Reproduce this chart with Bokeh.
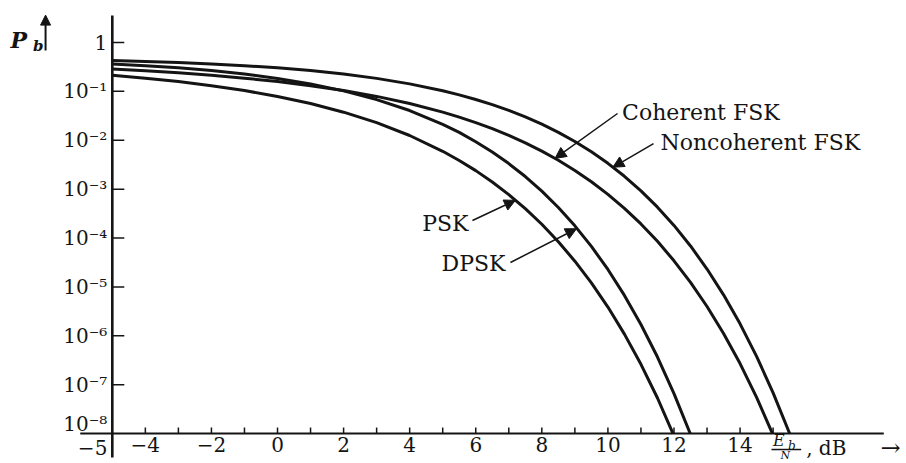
from bokeh.plotting import figure
from bokeh.models import Range1d, Label, Arrow, NormalHead
from bokeh.core.properties import value
from bokeh.embed import file_html
from bokeh.resources import INLINE

# Eb/N0 in dB for each curve (last point = where the curve meets the 1e-8 axis)
grid_db = [-5, -4, -3, -2, -1, 0, 1, 2, 3, 4, 5, 5.5, 6, 6.5, 7, 7.5, 8, 8.5,
           9, 9.5, 10, 10.5, 11, 11.5, 12, 12.5, 13, 13.5, 14, 14.5, 15, 15.5]
psk_db = grid_db[:24] + [11.97]
dpsk_db = grid_db[:25] + [12.49]
coherent_fsk_db = grid_db[:30] + [14.98]
noncoherent_fsk_db = grid_db[:31] + [15.5]

# Bit error probability
psk = [0.2133, 0.1861, 0.1584, 0.1306, 0.1038, 0.0787, 0.0563, 0.0375, 0.0229,
       0.0125, 0.00595, 0.00386, 0.00239, 0.00140, 7.73e-4, 3.99e-4, 1.91e-4,
       8.40e-5, 3.36e-5, 1.21e-5, 3.87e-6, 1.08e-6, 2.61e-7, 5.33e-8, 1.0e-8]
dpsk = [0.3644, 0.3358, 0.3029, 0.2660, 0.2260, 0.1839, 0.1420, 0.1025, 0.0680,
        0.04056, 0.02117, 0.01452, 0.00933, 0.00574, 0.00333, 0.00181, 9.09e-4,
        4.21e-4, 1.775e-4, 6.73e-5, 2.27e-5, 6.70e-6, 1.70e-6, 3.67e-7, 6.55e-8,
        1.0e-8]
coherent_fsk = [0.2869, 0.2640, 0.2395, 0.2135, 0.1864, 0.1587, 0.1309, 0.1040,
                0.0789, 0.0565, 0.0377, 0.0298, 0.0230, 0.0173, 0.0126, 0.00886,
                0.00600, 0.00390, 0.00241, 0.00142, 7.83e-4, 4.04e-4, 1.94e-4,
                8.55e-5, 3.42e-5, 1.24e-5, 3.97e-6, 1.11e-6, 2.70e-7, 5.5e-8,
                1.0e-8]
noncoherent_fsk = [0.4269, 0.4098, 0.3892, 0.3647, 0.3361, 0.3033, 0.2665, 0.2264,
                   0.1844, 0.1424, 0.1029, 0.0848, 0.0683, 0.0536, 0.0408, 0.0300,
                   0.02133, 0.01452, 0.00942, 0.00580, 0.003369, 0.001832, 9.23e-4,
                   4.28e-4, 1.809e-4, 6.88e-5, 2.32e-5, 6.88e-6, 1.756e-6, 3.79e-7,
                   6.79e-8, 1.0e-8]

x_ticks = [-4, -2, 0, 2, 4, 6, 8, 10, 12, 14]
x_tick_labels = ["\u22124", "\u22122", "0", "2", "4", "6", "8", "10", "12", "14"]
x_minor_ticks = [-3, -1, 1, 3, 5, 7, 9, 11, 13, 15]
y_ticks = [1, 1e-1, 1e-2, 1e-3, 1e-4, 1e-5, 1e-6, 1e-7]
y_tick_labels = ["1", "10\u207b\u00b9", "10\u207b\u00b2", "10\u207b\u00b3", "10\u207b\u2074",
                 "10\u207b\u2075", "10\u207b\u2076", "10\u207b\u2077"]

SERIF = "DejaVu Serif"
INK = "#141414"

# scale geometry (pixels per unit)
PX_X = 33.04          # pixels per dB
PX_DEC = 48.88        # pixels per decade
X_MIN, X_AXIS_START, X_AXIS_END = -5, -5.97, 18.35
Y_MIN, Y_AXIS_LOW, Y_AXIS_TOP = 1e-8, 10 ** -8.49, 10 ** 0.55

p = figure(width=906, height=463, x_range=Range1d(-8.384, 19.037),
           y_range=Range1d(10 ** -8.613, 10 ** 0.859), y_axis_type="log",
           x_axis_location=None, y_axis_location=None,
           output_backend="svg", toolbar_location=None, min_border=0)
p.outline_line_color = None
p.grid.visible = False
p.background_fill_color = "white"
p.border_fill_color = "white"

# axes
p.line([X_AXIS_START, X_AXIS_END], [Y_MIN, Y_MIN], line_color=INK, line_width=2)
p.line([X_MIN, X_MIN], [Y_AXIS_LOW, Y_AXIS_TOP], line_color=INK, line_width=2.6)
up = 10 ** (6 / PX_DEC)
all_x_ticks = x_ticks + x_minor_ticks
p.segment(x0=all_x_ticks, y0=[Y_MIN] * len(all_x_ticks), x1=all_x_ticks,
          y1=[Y_MIN * up] * len(all_x_ticks), line_color=INK, line_width=1.5)
p.segment(x0=[X_MIN] * len(y_ticks), y0=y_ticks, x1=[X_MIN + 12 / PX_X] * len(y_ticks),
          y1=y_ticks, line_color=INK, line_width=1.5)
p.text(x=x_ticks, y=[Y_MIN * 10 ** (-3 / PX_DEC)] * len(x_ticks), text=x_tick_labels,
       text_font=value(SERIF), text_font_size=value("20px"), text_color=INK,
       text_align="center", text_baseline="top")
p.text(x=[X_MIN - 5 / PX_X] * len(y_ticks), y=y_ticks, text=y_tick_labels,
       text_font=value(SERIF), text_font_size=value("20px"), text_color=INK,
       text_align="right", text_baseline="middle")

# curves
for xs, series in ((psk_db, psk), (dpsk_db, dpsk), (coherent_fsk_db, coherent_fsk),
                   (noncoherent_fsk_db, noncoherent_fsk)):
    p.line(xs, series, line_color=INK, line_width=3, line_join="round")


def lab(x, y, text, size="22px", align="left", style="normal", baseline="middle"):
    p.add_layout(Label(x=x, y=y, text=text, text_font=SERIF, text_font_size=size,
                       text_align=align, text_baseline=baseline, text_font_style=style,
                       text_color=INK))


def arrow(x0, y0, x1, y1, head=True, width=1.5, size=11):
    end = NormalHead(size=size, fill_color=INK, line_color=INK, line_width=1) if head else None
    p.add_layout(Arrow(x_start=x0, y_start=y0, x_end=x1, y_end=y1, end=end,
                       line_color=INK, line_width=width))


# curve annotations
lab(10.43, 10 ** -1.43, "Coherent FSK")
arrow(10.29, 10 ** -1.453, 8.4, 4.25e-3)
lab(11.59, 10 ** -2.046, "Noncoherent FSK")
arrow(11.38, 10 ** -2.067, 10.15, 2.8e-3)
lab(5.78, 10 ** -3.703, "PSK", align="right")
arrow(5.90, 10 ** -3.642, 7.2, 5.9e-4)
lab(6.90, 10 ** -4.522, "DPSK", align="right")
arrow(7.05, 10 ** -4.501, 9.05, 1.55e-4)

# axis end labels
lab(-5.15, 10 ** -7.815, "10\u207b\u2078", size="20px", align="right")
lab(-5.15, 10 ** -8.286, "\u22125", size="20px", align="right")

# y axis title P_b with arrow
lab(-8.08, 10 ** 0.041, "P", size="22px", style="bold italic")
lab(-7.40, 10 ** -0.07, "b", size="15px", style="bold italic")
arrow(-7.02, 10 ** -0.164, -7.02, 10 ** 0.56, width=2, size=10)

# x axis title Eb/N, dB ->
lab(15.0, 10 ** -8.143, "E", size="16px", style="italic")
lab(15.45, 10 ** -8.245, "b", size="12px", style="italic")
arrow(14.95, 10 ** -8.327, 15.85, 10 ** -8.327, head=False, width=1.5)
lab(15.22, 10 ** -8.45, "N", size="11px", style="italic")
lab(16.0, 10 ** -8.286, ", dB", size="20px")
lab(18.25, 10 ** -8.286, "\u2192", size="24px")

open("out.html", "w").write(file_html(p, INLINE))
